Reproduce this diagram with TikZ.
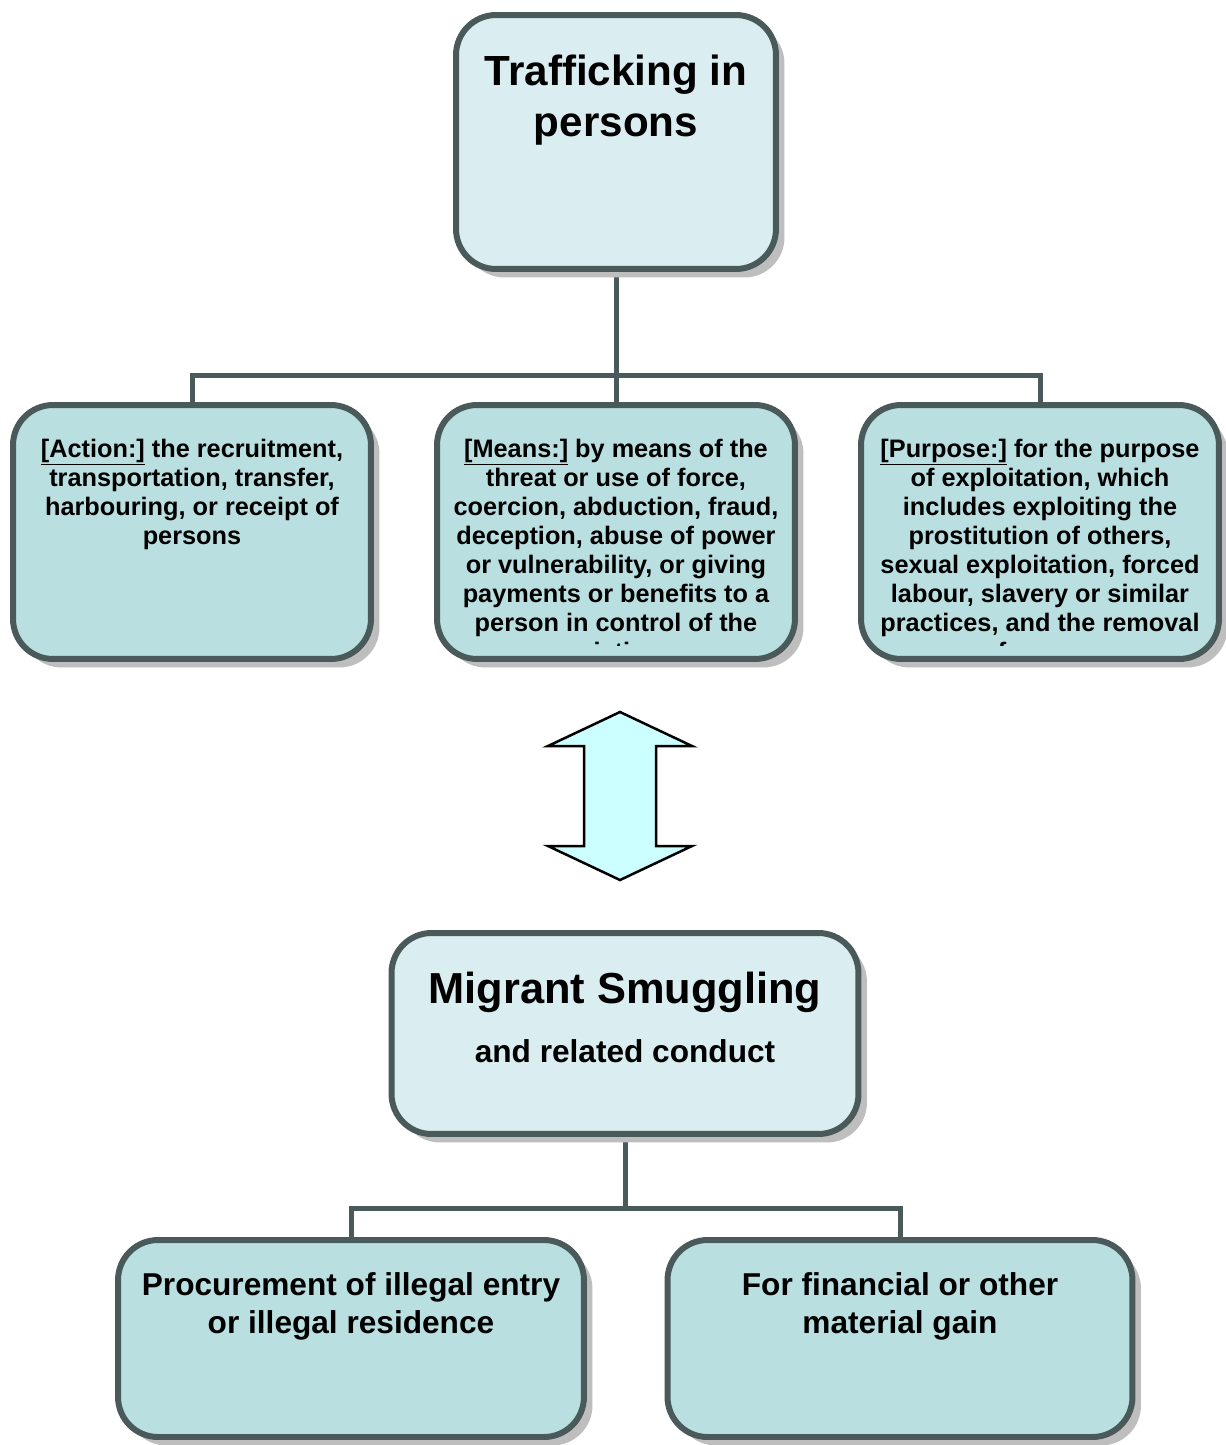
\documentclass[tikz,border=0pt]{standalone}
\usepackage{fontspec}
\setmainfont{Liberation Sans}
\usetikzlibrary{shadows,backgrounds}
\definecolor{bordc}{RGB}{74,90,90}
\definecolor{lightfill}{RGB}{218,237,240}
\definecolor{midfill}{RGB}{185,223,225}
\definecolor{arrowfill}{RGB}{204,255,255}
\definecolor{shadc}{RGB}{190,190,190}
\tikzset{
  box/.style={draw=bordc, line width=0.12cm, rounded corners=0.8cm, inner sep=0pt,
    drop shadow={shadow xshift=0.17cm, shadow yshift=-0.17cm, opacity=1, fill=shadc}},
  topbox/.style={box, fill=lightfill},
  subbox/.style={box, fill=midfill},
  conn/.style={draw=bordc, line width=0.1cm},
  small/.style={align=center, inner sep=0pt, anchor=base, font=\fontsize{14.4}{16.5}\selectfont\bfseries},
  big/.style={align=center, inner sep=0pt, anchor=base, font=\fontsize{24}{28.5}\selectfont\bfseries},
  mid/.style={align=center, inner sep=0pt, anchor=base, font=\fontsize{18}{21.6}\selectfont\bfseries},
}
\begin{document}
\begin{tikzpicture}[x=0.02cm, y=-0.02cm]
\useasboundingbox (0,0) rectangle (1226,1445);
% junction coordinates
\coordinate (j1) at (616,375);
\coordinate (j2) at (625,1208);
% boxes
\node[topbox, minimum width=6.4cm, minimum height=5.08cm] (tip) at (616,142) {};
\node[subbox, minimum width=7.16cm, minimum height=5.08cm] (act) at (192,532) {};
\node[subbox, minimum width=7.16cm, minimum height=5.08cm] (mea) at (616,532) {};
\node[subbox, minimum width=7.16cm, minimum height=5.08cm] (pur) at (1040,532) {};
\node[topbox, minimum width=9.34cm, minimum height=4.02cm] (ms) at (625,1033.5) {};
\node[subbox, minimum width=9.32cm, minimum height=3.94cm] (proc) at (351,1338.5) {};
\node[subbox, minimum width=9.3cm, minimum height=3.94cm] (gain) at (900,1338.5) {};
% connectors (behind the boxes)
\begin{scope}[on background layer]
\draw[conn] (tip.south) -- (mea.north);
\draw[conn] (act.north) -- (act.north |- j1) -- (pur.north |- j1) -- (pur.north);
\draw[conn] (ms.south) -- (j2);
\draw[conn] (proc.north) -- (proc.north |- j2) -- (gain.north |- j2) -- (gain.north);
\end{scope}
% texts (anchor base = baseline of the last line)
\node[big] (tipt) at (616,136) {Trafficking in\\persons};
\node[small] (actt) at (192,544) {\underline{[Action:]} the recruitment,\\transportation, transfer,\\harbouring, or receipt of\\persons};
\begin{scope}
\clip (437,405) rectangle (794,645);
\node[small] (meat) at (616,660) {\underline{[Means:]} by means of the\\threat or use of force,\\coercion, abduction, fraud,\\deception, abuse of power\\or vulnerability, or giving\\payments or benefits to a\\person in control of the\\victim};
\end{scope}
\begin{scope}
\clip (861,405) rectangle (1218,645);
\node[small] (purt) at (1040,660) {\underline{[Purpose:]} for the purpose\\of exploitation, which\\includes exploiting the\\prostitution of others,\\sexual exploitation, forced\\labour, slavery or similar\\practices, and the removal\\of organs};
\end{scope}
\node[big, font=\fontsize{24.7}{28}\selectfont\bfseries] (mst) at (625,1003) {Migrant Smuggling};
\node[mid] (mss) at (625,1062) {and related conduct};
\node[mid] (proct) at (351,1333) {Procurement of illegal entry\\or illegal residence};
\node[mid] (gaint) at (900,1333) {For financial or other\\material gain};
% double arrow
\draw[black, line width=0.05cm, fill=arrowfill, line join=miter]
  (620,712) -- (692,746) -- (656,746) -- (656,846) -- (692,846) -- (620,880)
  -- (548,846) -- (584,846) -- (584,746) -- (548,746) -- cycle;
\end{tikzpicture}
\end{document}
